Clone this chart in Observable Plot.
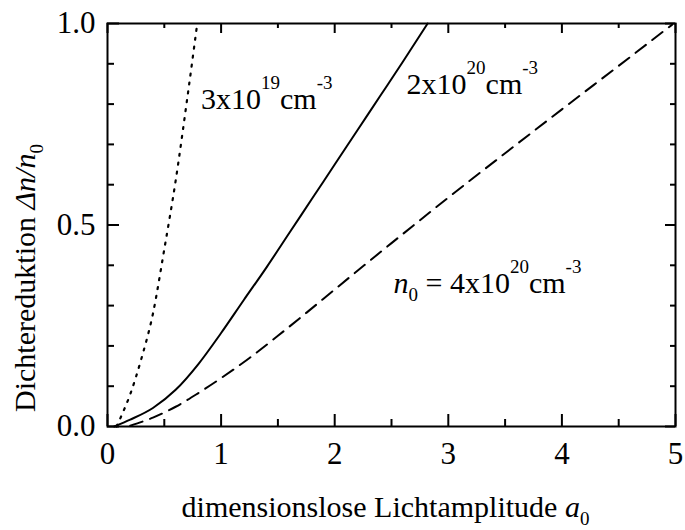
<!DOCTYPE html>
<html>
<head>
<meta charset="utf-8">
<script src="https://cdn.jsdelivr.net/npm/d3@7"></script>
<script src="https://cdn.jsdelivr.net/npm/@observablehq/plot@0.6"></script>
<style>
  html, body { margin: 0; padding: 0; background: #fff; }
  #chart svg, #chart svg text, #chart svg tspan { font-family: "Liberation Serif", "Times New Roman", "DejaVu Serif", serif !important; }
</style>
</head>
<body>
<div id="chart"></div>
<script>
// ---- data ----
// n0 = 3x10^19 cm^-3 (dotted)
const dotA = [0.08, 0.12, 0.2, 0.3, 0.4, 0.5, 0.6, 0.7, 0.79];
const dotN = [0.0, 0.025, 0.08, 0.17, 0.28, 0.44, 0.61, 0.81, 1.0];
// n0 = 2x10^20 cm^-3 (solid)
const solA = [0.06, 0.2, 0.4, 0.6, 0.8, 1.0, 1.2, 1.4, 1.6, 1.8, 2.0, 2.2, 2.4, 2.6, 2.818];
const solN = [0.0, 0.017, 0.046, 0.091, 0.155, 0.232, 0.314, 0.395, 0.48, 0.565, 0.65, 0.735, 0.82, 0.905, 1.0];
// n0 = 4x10^20 cm^-3 (dashed)
const dashA = [0.2, 0.4, 0.6, 0.8, 1.0, 1.25, 1.5, 1.75, 2.0, 2.5, 3.0, 3.5, 4.0, 4.5, 4.97];
const dashN = [0.002, 0.022, 0.049, 0.083, 0.12, 0.17, 0.225, 0.282, 0.34, 0.455, 0.568, 0.678, 0.787, 0.895, 0.997];

// ticks
const xMajor = [0, 1, 2, 3, 4, 5];
const xMinor = [0.5, 1.5, 2.5, 3.5, 4.5];
const yMajor = [0, 0.5, 1.0];
const yMinor = [0.1, 0.2, 0.3, 0.4, 0.6, 0.7, 0.8, 0.9];

// curve labels (anchor at start of text baseline, in data units)
const labelA = [0.823, 2.633, 2.518];
const labelN = [0.788, 0.826, 0.331];
const labelText = [
  [["3x10"], ["19", "sup"], ["cm"], ["-3", "sup"]],
  [["2x10"], ["20", "sup"], ["cm"], ["-3", "sup"]],
  [["n", "it"], ["0", "sub"], [" = 4x10"], ["20", "sup"], ["cm"], ["-3", "sup"]]
];
const xTitle = [["dimensionslose Lichtamplitude "], ["a", "it"], ["0", "sub"]];
const yTitle = [["Dichtereduktion "], ["\u0394n/n", "it"], ["0", "sub"]];

// ---- build tables ----
const toRows = (A, N) => A.map((a, i) => ({a, n: N[i]}));
const dotted = toRows(dotA, dotN);
const solid = toRows(solA, solN);
const dashed = toRows(dashA, dashN);
const plain = parts => parts.map(p => p[0]).join("");
const labels = labelText.map((parts, i) => ({a: labelA[i], n: labelN[i], t: plain(parts), parts}));

const W = 685, H = 530;
const mL = 107, mR = 10, mT = 23, mB = 104;
const innerW = W - mL - mR, innerH = H - mT - mB;
const majorLen = 12, minorLen = 7, majorLenOpp = 10, minorLenOpp = 5;
const FONT = "Liberation Serif, Times New Roman, DejaVu Serif, serif";

const chart = Plot.plot({
  width: W,
  height: H,
  marginLeft: mL,
  marginRight: mR,
  marginTop: mT,
  marginBottom: mB,
  style: {fontFamily: FONT, fontSize: "30px", background: "#fff", color: "#000"},
  x: {domain: [0, 5]},
  y: {domain: [0, 1]},
  marks: [
    // tick labels
    Plot.axisX({ticks: xMajor, tickSize: 0, tickPadding: 15, tickFormat: d3.format("d"), label: null, fontSize: 31, fontFamily: FONT}),
    Plot.axisY({ticks: yMajor, tickSize: 0, tickPadding: 12, tickFormat: d3.format(".1f"), label: null, fontSize: 31, fontFamily: FONT}),
    // inward ticks: bottom / top
    Plot.ruleX(xMajor, {insetTop: innerH - majorLen, strokeWidth: 2, stroke: "#000"}),
    Plot.ruleX(xMinor, {insetTop: innerH - minorLen, strokeWidth: 2, stroke: "#000"}),
    Plot.ruleX(xMajor, {insetBottom: innerH - majorLenOpp, strokeWidth: 2, stroke: "#000"}),
    Plot.ruleX(xMinor, {insetBottom: innerH - minorLenOpp, strokeWidth: 2, stroke: "#000"}),
    // inward ticks: left / right
    Plot.ruleY(yMajor, {insetRight: innerW - majorLen, strokeWidth: 2, stroke: "#000"}),
    Plot.ruleY(yMinor, {insetRight: innerW - minorLen, strokeWidth: 2, stroke: "#000"}),
    Plot.ruleY(yMajor, {insetLeft: innerW - majorLenOpp, strokeWidth: 2, stroke: "#000"}),
    Plot.ruleY(yMinor, {insetLeft: innerW - minorLenOpp, strokeWidth: 2, stroke: "#000"}),
    // curves
    Plot.line(dotted, {x: "a", y: "n", curve: "monotone-x", stroke: "#000", strokeWidth: 2.2, strokeDasharray: "2,7"}),
    Plot.line(solid, {x: "a", y: "n", curve: "monotone-x", stroke: "#000", strokeWidth: 2}),
    Plot.line(dashed, {x: "a", y: "n", curve: "monotone-x", stroke: "#000", strokeWidth: 2, strokeDasharray: "13,8"}),
    // frame
    Plot.frame({stroke: "#000", strokeWidth: 2}),
    // curve labels
    Plot.text(labels, {x: "a", y: "n", text: "t", textAnchor: "start", lineAnchor: "bottom", fontSize: 30, fontFamily: FONT, fill: "#000"}),
    // axis titles
    Plot.text([plain(xTitle)], {frameAnchor: "bottom", textAnchor: "middle", lineAnchor: "bottom", dx: -6, dy: 90, fontSize: 30, fontFamily: FONT, fill: "#000"}),
    Plot.text([plain(yTitle)], {frameAnchor: "left", textAnchor: "middle", lineAnchor: "bottom", rotate: -90, dx: -73, dy: 53, fontSize: 30, fontFamily: FONT, fill: "#000"})
  ]
});

// rich text: superscripts, subscripts, italics
function rich(el, parts) {
  el.textContent = "";
  let shift = 0;
  for (const [t, kind] of parts) {
    const ts = document.createElementNS("http://www.w3.org/2000/svg", "tspan");
    const target = kind === "sup" ? -20 : kind === "sub" ? 8 : 0;
    ts.setAttribute("dy", target - shift);
    shift = target;
    if (kind === "sup" || kind === "sub") ts.setAttribute("font-size", 19);
    if (kind === "it") ts.setAttribute("font-style", "italic");
    ts.textContent = t;
    el.appendChild(ts);
  }
}
const allRich = [...labelText, xTitle, yTitle];
d3.select(chart).selectAll("text").each(function () {
  this.setAttribute("font-family", FONT);
  const txt = this.textContent;
  const m = allRich.find(p => plain(p) === txt);
  if (m) rich(this, m);
});

document.getElementById("chart").appendChild(chart);
</script>
</body>
</html>
